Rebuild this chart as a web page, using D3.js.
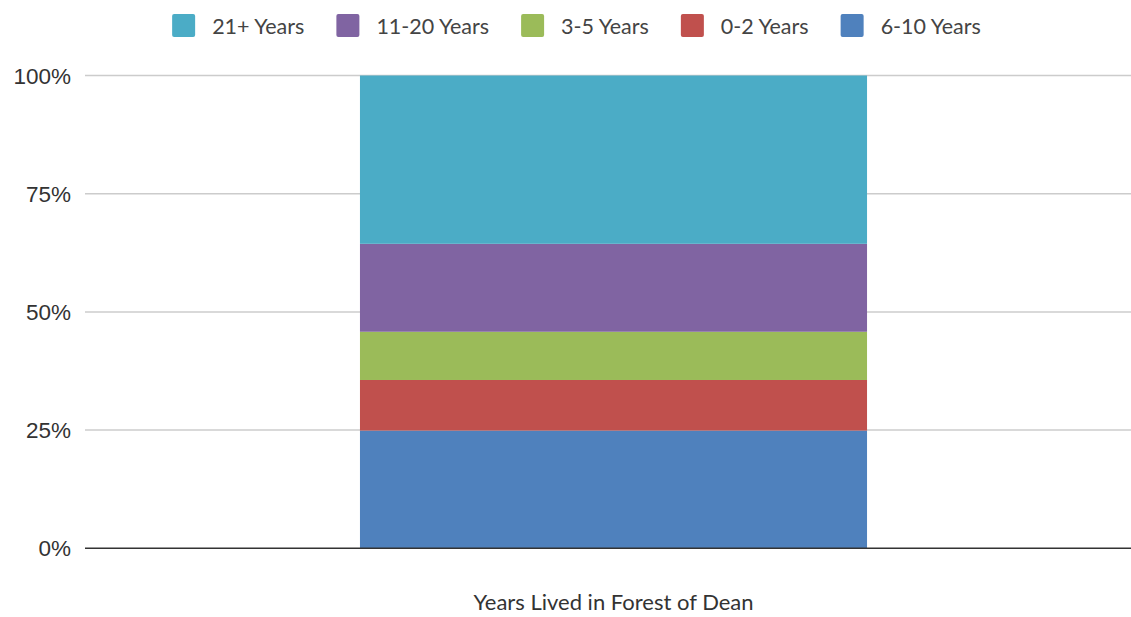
<!DOCTYPE html>
<html>
<head>
<meta charset="utf-8">
<script src="https://cdn.jsdelivr.net/npm/d3@7"></script>
<style>
  body { margin: 0; background: #fff; }
  svg { display: block; }
</style>
</head>
<body>
<div id="chart"></div>
<script>
// Data (percent of respondents)
const category = ["Years Lived in Forest of Dean"];
const seriesNames = ["6-10 Years", "0-2 Years", "3-5 Years", "11-20 Years", "21+ Years"];
const seriesValues = [24.9, 10.7, 10.2, 18.6, 35.6];
const seriesColors = ["#4f81bd", "#c0504d", "#9bbb59", "#8064a2", "#4bacc6"];
const legendOrder = ["21+ Years", "11-20 Years", "3-5 Years", "0-2 Years", "6-10 Years"];
const yTicks = [0, 25, 50, 75, 100];

const width = 1131, height = 617;
const margin = { top: 75.5, left: 85, bottom: 617 - 548.3 };

const svg = d3.select("#chart")
  .append("svg")
  .attr("width", width)
  .attr("height", height);

const x = d3.scaleBand()
  .domain(category)
  .range([margin.left, 1142])
  .padding(0.3516);

const y = d3.scaleLinear()
  .domain([0, 100])
  .range([height - margin.bottom, margin.top]);

// Gridlines
svg.append("g")
  .selectAll("line")
  .data(yTicks.filter(d => d > 0))
  .enter()
  .append("line")
  .attr("x1", margin.left)
  .attr("x2", width)
  .attr("y1", d => y(d))
  .attr("y2", d => y(d))
  .attr("stroke", "#cccccc")
  .attr("stroke-width", 1.5);

// Y tick labels
svg.append("g")
  .selectAll("text")
  .data(yTicks)
  .enter()
  .append("text")
  .attr("x", 71)
  .attr("y", d => y(d))
  .attr("dy", "0.36em")
  .attr("text-anchor", "end")
  .style("font-family", "'Liberation Sans', Arial, sans-serif")
  .style("font-size", "22.5px")
  .style("fill", "#333")
  .text(d => d + "%");

// Stacked segments
const table = [Object.fromEntries(seriesNames.map((s, i) => [s, seriesValues[i]]))];
table[0].cat = category[0];
const stacked = d3.stack().keys(seriesNames)(table);

svg.append("g")
  .selectAll("rect")
  .data(stacked)
  .enter()
  .append("rect")
  .attr("x", x(category[0]))
  .attr("width", x.bandwidth())
  .attr("y", d => y(d[0][1]))
  .attr("height", d => y(d[0][0]) - y(d[0][1]))
  .attr("fill", (d, i) => seriesColors[i]);

// Baseline
svg.append("line")
  .attr("x1", margin.left)
  .attr("x2", width)
  .attr("y1", y(0))
  .attr("y2", y(0))
  .attr("stroke", "#333")
  .attr("stroke-width", 1.5);

// X axis label
svg.append("text")
  .attr("x", x(category[0]) + x.bandwidth() / 2)
  .attr("y", 610)
  .attr("text-anchor", "middle")
  .style("font-family", "Lato, 'Open Sans', sans-serif")
  .style("font-size", "22px")
  .style("fill", "#333")
  .text(category[0]);

// Legend
const legend = svg.append("g");
const items = legend.selectAll("g")
  .data(legendOrder)
  .enter()
  .append("g");

items.append("rect")
  .attr("width", 23)
  .attr("height", 23)
  .attr("rx", 2)
  .attr("y", 14)
  .attr("fill", d => seriesColors[seriesNames.indexOf(d)]);

items.append("text")
  .attr("x", 40)
  .attr("y", 26)
  .attr("dy", "0.35em")
  .style("font-family", "Lato, 'Open Sans', sans-serif")
  .style("font-size", "21.5px")
  .style("fill", "#444")
  .text(d => d);

let cursor = 0;
items.each(function () {
  const w = 40 + d3.select(this).select("text").node().getComputedTextLength();
  d3.select(this).attr("transform", `translate(${cursor},0)`);
  cursor += w + 32;
});
const legendWidth = cursor - 32;
legend.attr("transform", `translate(${(170 + 983) / 2 - legendWidth / 2},0)`);
</script>
</body>
</html>
